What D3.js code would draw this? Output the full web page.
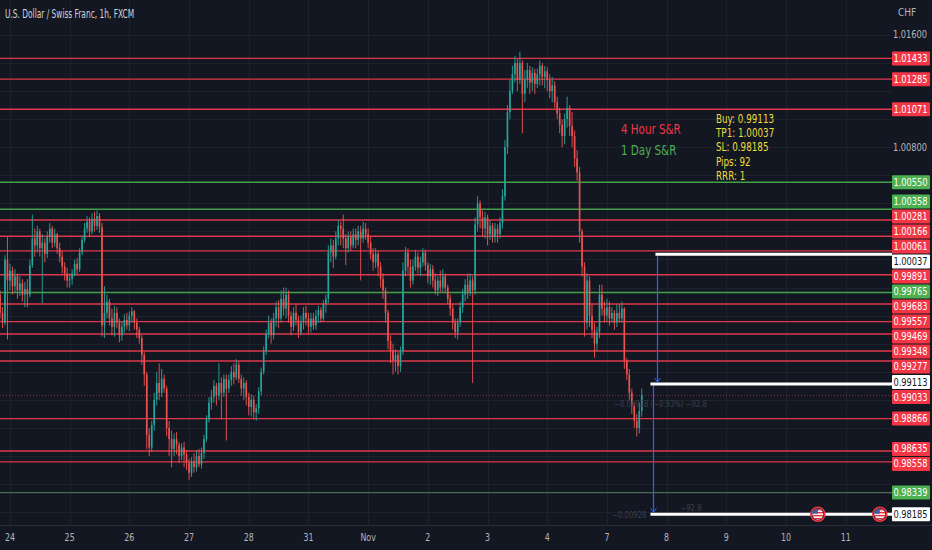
<!DOCTYPE html>
<html>
<head>
<meta charset="utf-8">
<script src="https://cdn.jsdelivr.net/npm/d3@7"></script>
<style>
  html, body { margin: 0; padding: 0; background: #131722; }
  svg { display: block; }
  text { font-family: "DejaVu Sans Condensed", "Liberation Sans Narrow", "Roboto", sans-serif; }
</style>
</head>
<body>
<div id="chart"></div>
<script>
// USD/CHF 1h candles, first bar is 4 hours before Oct 24, open of each bar = previous close
const firstOpen = 0.9975;
const firstBarIndex = -4;

const closes = [
  0.9962, 0.9955, 1.0000, 0.9985,
  // Oct 24
  0.9992, 0.9981, 0.9988, 0.9978, 0.9983, 0.9975, 0.9979, 0.9975, 0.9996, 1.0015, 1.0010, 1.0020,
  1.0008, 1.0012, 1.0004, 1.0016, 1.0022, 1.0012, 1.0018, 1.0008, 1.0002, 0.9995, 0.9990, 0.9985,
  // Oct 25
  0.9986, 0.9990, 0.9997, 0.9993, 1.0005, 1.0014, 1.0022, 1.0027, 1.0020, 1.0029, 1.0024, 1.0031,
  1.0023, 0.9953, 0.9962, 0.9970, 0.9958, 0.9952, 0.9962, 0.9955, 0.9946, 0.9952, 0.9957, 0.9953,
  // Oct 26
  0.9960, 0.9963, 0.9955, 0.9950, 0.9944, 0.9932, 0.9918, 0.9875, 0.9866, 0.9882, 0.9900, 0.9912,
  0.9905, 0.9915, 0.9908, 0.9880, 0.9872, 0.9865, 0.9872, 0.9868, 0.9860, 0.9866, 0.9861, 0.9855,
  // Oct 27
  0.9848, 0.9856, 0.9852, 0.9860, 0.9854, 0.9862, 0.9872, 0.9886, 0.9898, 0.9902, 0.9910, 0.9903,
  0.9912, 0.9905, 0.9915, 0.9908, 0.9914, 0.9920, 0.9916, 0.9925, 0.9915, 0.9908, 0.9912, 0.9902,
  // Oct 28
  0.9895, 0.9900, 0.9891, 0.9894, 0.9906, 0.9920, 0.9935, 0.9947, 0.9955, 0.9946, 0.9958, 0.9966,
  0.9958, 0.9972, 0.9965, 0.9975, 0.9960, 0.9952, 0.9962, 0.9957, 0.9948, 0.9955, 0.9962, 0.9958,
  // Oct 31
  0.9952, 0.9958, 0.9953, 0.9960, 0.9964, 0.9958, 0.9968, 0.9972, 1.0005, 1.0010, 1.0002, 1.0015,
  1.0024, 1.0022, 1.0015, 1.0008, 1.0016, 1.0010, 1.0018, 1.0014, 1.0020, 1.0015, 1.0022, 1.0018,
  // Nov 1
  1.0012, 1.0004, 0.9998, 1.0004, 0.9995, 0.9986, 0.9978, 0.9962, 0.9942, 0.9935, 0.9928, 0.9932,
  0.9924, 0.9935, 0.9992, 1.0005, 0.9995, 0.9985, 0.9995, 1.0002, 0.9994, 0.9998, 1.0005, 0.9996,
  // Nov 2
  0.9988, 0.9993, 0.9985, 0.9978, 0.9985, 0.9980, 0.9988, 0.9980, 0.9972, 0.9965, 0.9955, 0.9948,
  0.9955, 0.9966, 0.9975, 0.9982, 0.9976, 0.9985, 0.9978, 1.0025, 1.0040, 1.0030, 1.0022, 1.0030,
  // Nov 3
  1.0018, 1.0024, 1.0016, 1.0022, 1.0018, 1.0026, 1.0045, 1.0080, 1.0105, 1.0120, 1.0132, 1.0140,
  1.0128, 1.0140, 1.0118, 1.0128, 1.0135, 1.0126, 1.0133, 1.0125, 1.0132, 1.0138, 1.0130, 1.0134,
  // Nov 4
  1.0128, 1.0120, 1.0124, 1.0112, 1.0104, 1.0096, 1.0088, 1.0100, 1.0108, 1.0095, 1.0088, 1.0072,
  1.0062, 1.0020, 0.9995, 0.9955, 0.9985, 0.9960, 0.9950, 0.9940, 0.9948, 0.9975, 0.9965, 0.9960,
  // Nov 7
  0.9966, 0.9958, 0.9962, 0.9955, 0.9962, 0.9958, 0.9965, 0.9928, 0.9918, 0.9905, 0.9896, 0.9885,
  0.9880, 0.9892, 0.99033
];

const highs = [
  0.9978, 0.9966, 1.0003, 1.0016,
  0.9997, 0.9995, 0.9993, 0.9990, 0.9988, 0.9986, 0.9984, 0.9986, 1.0000, 1.0032, 1.0022, 1.0024,
  1.0022, 1.0018, 1.0015, 1.0020, 1.0026, 1.0024, 1.0022, 1.0019, 1.0012, 1.0006, 0.9998, 0.9994,
  0.9990, 0.9993, 1.0000, 1.0001, 1.0008, 1.0017, 1.0026, 1.0031, 1.0030, 1.0033, 1.0034, 1.0035,
  1.0033, 1.0026, 0.9981, 0.9975, 0.9972, 0.9965, 0.9967, 0.9966, 0.9958, 0.9956, 0.9961, 0.9962,
  0.9963, 0.9966, 0.9964, 0.9958, 0.9952, 0.9946, 0.9934, 0.9920, 0.9880, 0.9885, 0.9905, 0.9920,
  0.9926, 0.9922, 0.9918, 0.9910, 0.9885, 0.9878, 0.9876, 0.9877, 0.9870, 0.9869, 0.9870, 0.9864,
  0.9858, 0.9859, 0.9862, 0.9864, 0.9865, 0.9866, 0.9875, 0.9889, 0.9902, 0.9907, 0.9914, 0.9912,
  0.9926, 0.9916, 0.9918, 0.9918, 0.9918, 0.9924, 0.9926, 0.9929, 0.9927, 0.9918, 0.9916, 0.9914,
  0.9905, 0.9904, 0.9903, 0.9897, 0.9909, 0.9923, 0.9938, 0.9950, 0.9960, 0.9958, 0.9962, 0.9970,
  0.9971, 0.9978, 0.9980, 0.9980, 0.9978, 0.9963, 0.9966, 0.9968, 0.9960, 0.9960, 0.9966, 0.9967,
  0.9962, 0.9962, 0.9962, 0.9964, 0.9967, 0.9966, 0.9971, 0.9975, 1.0010, 1.0015, 1.0014, 1.0020,
  1.0028, 1.0027, 1.0032, 1.0018, 1.0020, 1.0020, 1.0022, 1.0022, 1.0024, 1.0024, 1.0027, 1.0026,
  1.0022, 1.0016, 1.0008, 1.0008, 1.0006, 0.9998, 0.9990, 0.9980, 0.9964, 0.9946, 0.9940, 0.9936,
  0.9934, 0.9938, 0.9998, 1.0009, 1.0008, 1.0000, 1.0000, 1.0007, 1.0005, 1.0002, 1.0008, 1.0007,
  0.9998, 0.9997, 0.9996, 0.9990, 0.9988, 0.9992, 0.9993, 0.9990, 0.9982, 0.9975, 0.9968, 0.9958,
  0.9958, 0.9970, 0.9979, 0.9986, 0.9990, 0.9990, 0.9988, 1.0030, 1.0045, 1.0042, 1.0035, 1.0034,
  1.0032, 1.0028, 1.0026, 1.0026, 1.0025, 1.0030, 1.0050, 1.0085, 1.0110, 1.0128, 1.0138, 1.0145,
  1.0143, 1.0148, 1.0142, 1.0135, 1.0140, 1.0138, 1.0137, 1.0136, 1.0136, 1.0142, 1.0140, 1.0138,
  1.0137, 1.0132, 1.0130, 1.0127, 1.0116, 1.0108, 1.0100, 1.0104, 1.0116, 1.0110, 1.0105, 1.0092,
  1.0078, 1.0066, 1.0022, 0.9998, 0.9990, 0.9988, 0.9968, 0.9955, 0.9952, 0.9982, 0.9982, 0.9970,
  0.9972, 0.9970, 0.9966, 0.9964, 0.9968, 0.9968, 0.9970, 0.9966, 0.9930, 0.9922, 0.9908, 0.9898,
  0.9890, 0.9898, 0.9908
];

const lows = [
  0.9958, 0.9951, 0.9953, 0.9943,
  0.9978, 0.9975, 0.9976, 0.9972, 0.9974, 0.9970, 0.9966, 0.9966, 0.9973, 0.9994, 1.0002, 1.0005,
  1.0002, 0.9969, 0.9998, 1.0001, 1.0012, 1.0008, 1.0009, 1.0004, 0.9998, 0.9990, 0.9985, 0.9980,
  0.9980, 0.9982, 0.9988, 0.9989, 0.9991, 1.0003, 1.0012, 1.0019, 1.0016, 1.0018, 1.0020, 1.0021,
  1.0019, 0.9945, 0.9944, 0.9958, 0.9953, 0.9946, 0.9945, 0.9951, 0.9941, 0.9942, 0.9948, 0.9950,
  0.9949, 0.9955, 0.9950, 0.9944, 0.9940, 0.9925, 0.9910, 0.9865, 0.9860, 0.9863, 0.9878, 0.9896,
  0.9900, 0.9902, 0.9905, 0.9874, 0.9860, 0.9852, 0.9860, 0.9861, 0.9855, 0.9857, 0.9852, 0.9850,
  0.9843, 0.9845, 0.9848, 0.9849, 0.9852, 0.9851, 0.9858, 0.9870, 0.9884, 0.9893, 0.9898, 0.9896,
  0.9900, 0.9886, 0.9902, 0.9871, 0.9905, 0.9910, 0.9911, 0.9914, 0.9912, 0.9903, 0.9900, 0.9896,
  0.9889, 0.9888, 0.9886, 0.9885, 0.9890, 0.9903, 0.9918, 0.9932, 0.9944, 0.9940, 0.9943, 0.9952,
  0.9951, 0.9955, 0.9960, 0.9958, 0.9955, 0.9946, 0.9949, 0.9953, 0.9944, 0.9946, 0.9950, 0.9953,
  0.9947, 0.9948, 0.9950, 0.9950, 0.9955, 0.9955, 0.9956, 0.9962, 0.9969, 0.9998, 0.9994, 1.0000,
  1.0010, 1.0010, 1.0008, 0.9996, 1.0005, 1.0006, 1.0008, 1.0008, 1.0010, 0.9985, 1.0012, 1.0014,
  1.0008, 1.0000, 0.9992, 0.9994, 0.9988, 0.9980, 0.9972, 0.9955, 0.9936, 0.9926, 0.9918, 0.9920,
  0.9918, 0.9920, 0.9932, 0.9988, 0.9990, 0.9980, 0.9982, 0.9992, 0.9990, 0.9988, 0.9995, 0.9992,
  0.9983, 0.9982, 0.9980, 0.9975, 0.9974, 0.9976, 0.9977, 0.9976, 0.9968, 0.9960, 0.9950, 0.9944,
  0.9943, 0.9952, 0.9962, 0.9970, 0.9972, 0.9974, 0.9912, 0.9975, 1.0020, 1.0022, 1.0016, 1.0015,
  1.0010, 1.0014, 1.0012, 1.0012, 1.0012, 1.0015, 1.0022, 1.0042, 1.0075, 1.0100, 1.0118, 1.0126,
  1.0120, 1.0125, 1.0090, 1.0112, 1.0122, 1.0118, 1.0120, 1.0118, 1.0122, 1.0124, 1.0124, 1.0122,
  1.0120, 1.0115, 1.0112, 1.0108, 1.0100, 1.0090, 1.0080, 1.0082, 1.0094, 1.0088, 1.0080, 1.0066,
  1.0056, 1.0012, 0.9988, 0.9945, 0.9950, 0.9952, 0.9944, 0.9930, 0.9935, 0.9944, 0.9960, 0.9955,
  0.9956, 0.9953, 0.9955, 0.9950, 0.9952, 0.9955, 0.9955, 0.9922, 0.9914, 0.9900, 0.9890, 0.9880,
  0.9874, 0.9876, 0.9888
];

// time axis: trading days, 24 bars each
const dayLabels = ['24', '25', '26', '27', '28', '31', 'Nov', '2', '3', '4', '7', '8', '9', '10', '11'];
const barsPerDay = 24;

// price axis ticks
const priceTicks = [1.016, 1.014, 1.012, 1.010, 1.008, 1.006, 1.004, 1.002, 1.000, 0.998, 0.996,
  0.994, 0.992, 0.990, 0.988, 0.986, 0.984, 0.982];

// support / resistance levels
const fourHourLevels = [1.01433, 1.01285, 1.01071, 1.00281, 1.00166, 1.00061, 0.99891, 0.99683,
  0.99557, 0.99469, 0.99348, 0.99277, 0.98866, 0.98635, 0.98558];
const dayLevels = [1.00550, 1.00358, 0.99765, 0.98339];
const lastPrice = 0.99033;

// trade setup
const buyPrice = 0.99113;
const tpPrice = 1.00037;
const slPrice = 0.98185;
const tradeStartBar = 257.5;
const tpStartBar = 259.5;
const eventBars = [324.8, 349.7];
const infoLines = ['Buy: 0.99113', 'TP1: 1.00037', 'SL: 0.98185', 'Pips: 92', 'RRR: 1'];

const W = 932, H = 550;
const plotW = 892, plotH = 525;

const candles = closes.map((c, i) => {
  const o = i === 0 ? firstOpen : closes[i - 1];
  return {
    idx: firstBarIndex + i, o, c,
    h: Math.max(highs[i], o, c),
    l: Math.min(lows[i], o, c)
  };
});

const x = d3.scaleLinear().domain([-4, 354.6]).range([0, plotW]);
const y = d3.scaleLinear().domain([0.98108, 1.01849]).range([plotH, 0]);
const fmt = d3.format('.5f');
const crisp = v => Math.round(v) + 0.5;

// the chart font is narrower than anything installed, so squeeze text horizontally
function squeeze(sel, k) {
  sel.each(function () {
    const len = this.getComputedTextLength();
    this.setAttribute('textLength', len * k);
    this.setAttribute('lengthAdjust', 'spacingAndGlyphs');
  });
  return sel;
}

const svg = d3.select('#chart').append('svg')
  .attr('width', W).attr('height', H);

svg.append('rect').attr('width', W).attr('height', H).attr('fill', '#131722');

const RED = '#f23645', GREEN = '#4caf50';

// grid
const grid = svg.append('g');
grid.selectAll('.hg').data(priceTicks).join('line')
  .attr('x1', 0).attr('x2', plotW)
  .attr('y1', d => crisp(y(d))).attr('y2', d => crisp(y(d)))
  .attr('stroke', '#1e222d');
grid.selectAll('.vg').data(dayLabels).join('line')
  .attr('x1', (d, i) => crisp(x(i * barsPerDay))).attr('x2', (d, i) => crisp(x(i * barsPerDay)))
  .attr('y1', 0).attr('y2', plotH)
  .attr('stroke', '#1e222d');
svg.append('line').attr('x1', 0).attr('x2', W).attr('y1', plotH + 0.5).attr('y2', plotH + 0.5)
  .attr('stroke', '#2a2e39');

// level lines
const levels = svg.append('g');
levels.selectAll('.r').data(fourHourLevels).join('line')
  .attr('x1', 0).attr('x2', plotW)
  .attr('y1', d => y(d)).attr('y2', d => y(d))
  .attr('stroke', '#e0384a').attr('stroke-width', 1.4);
levels.selectAll('.g').data(dayLevels).join('line')
  .attr('x1', 0).attr('x2', plotW)
  .attr('y1', d => y(d)).attr('y2', d => y(d))
  .attr('stroke', (d, i) => i === dayLevels.length - 1 ? '#4d6b55' : '#43a047').attr('stroke-width', 1.4);
levels.append('line')
  .attr('x1', 0).attr('x2', plotW)
  .attr('y1', crisp(y(lastPrice))).attr('y2', crisp(y(lastPrice)))
  .attr('stroke', RED).attr('stroke-opacity', 0.6).attr('stroke-dasharray', '1,2');

// candles
const step = x(1) - x(0);
const bodyW = Math.max(1, step * 0.65);
const cg = svg.append('g');
cg.selectAll('.wick').data(candles).join('line')
  .attr('x1', d => x(d.idx)).attr('x2', d => x(d.idx))
  .attr('y1', d => y(d.h)).attr('y2', d => y(d.l))
  .attr('stroke', d => d.c >= d.o ? '#26a69a' : '#ef5350').attr('stroke-width', 0.9);
cg.selectAll('.body').data(candles).join('rect')
  .attr('x', d => x(d.idx) - bodyW / 2).attr('width', bodyW)
  .attr('y', d => y(Math.max(d.o, d.c)))
  .attr('height', d => Math.max(1, Math.abs(y(d.o) - y(d.c))))
  .attr('fill', d => d.c >= d.o ? '#26a69a' : '#ef5350');

// trade tool
const tg = svg.append('g');
tg.append('line').attr('x1', x(tpStartBar)).attr('x2', plotW)
  .attr('y1', y(tpPrice)).attr('y2', y(tpPrice)).attr('stroke', '#fff').attr('stroke-width', 3);
tg.append('line').attr('x1', x(tradeStartBar)).attr('x2', plotW)
  .attr('y1', y(buyPrice)).attr('y2', y(buyPrice)).attr('stroke', '#fff').attr('stroke-width', 3);
tg.append('line').attr('x1', x(tradeStartBar)).attr('x2', plotW)
  .attr('y1', y(slPrice)).attr('y2', y(slPrice)).attr('stroke', '#fff').attr('stroke-width', 3);

function arrow(bar, p1, p2) {
  const ax = crisp(x(bar));
  tg.append('line').attr('x1', ax).attr('x2', ax)
    .attr('y1', y(p1) + 2).attr('y2', y(p2) - 2).attr('stroke', '#2962ff').attr('stroke-width', 1.2);
  tg.append('path')
    .attr('d', `M${ax - 3},${y(p2) - 6} L${ax},${y(p2) - 2} L${ax + 3},${y(p2) - 6}`)
    .attr('fill', 'none').attr('stroke', '#2962ff').attr('stroke-width', 1);
}
arrow(tpStartBar + 0.6, tpPrice, buyPrice);
arrow(tradeStartBar + 1, buyPrice, slPrice);

squeeze(tg.append('text').attr('x', x(tradeStartBar) + 10).attr('y', y(buyPrice) + 23)
  .attr('text-anchor', 'middle').attr('font-size', 9).attr('fill', '#3b3f4a')
  .text('−0.00928 (−0.93%) −92.8'), 0.85);
squeeze(tg.append('text').attr('x', x(tradeStartBar) - 4).attr('y', y(slPrice) + 4)
  .attr('text-anchor', 'end').attr('font-size', 9).attr('fill', '#3b3f4a').text('−0.00928'), 0.85);
squeeze(tg.append('text').attr('x', x(tradeStartBar) + 30).attr('y', y(slPrice) - 3)
  .attr('font-size', 9).attr('fill', '#3b3f4a').text('−92.8'), 0.85);

// economic event flags
const defs = svg.append('defs');
defs.append('clipPath').attr('id', 'flagClip').append('circle').attr('r', 5.5);
const flags = svg.selectAll('.flag').data(eventBars).join('g')
  .attr('transform', d => `translate(${x(d)},${y(slPrice)})`);
flags.append('circle').attr('r', 7).attr('fill', '#131722').attr('stroke', RED).attr('stroke-width', 1.6);
const inner = flags.append('g').attr('clip-path', 'url(#flagClip)');
inner.append('rect').attr('x', -6).attr('y', -6).attr('width', 12).attr('height', 12).attr('fill', '#fff');
[-4.5, -1.5, 1.5, 4.5].forEach(sy => {
  inner.append('rect').attr('x', -6).attr('y', sy - 0.8).attr('width', 12).attr('height', 1.5).attr('fill', '#e0323c');
});
inner.append('rect').attr('x', -6).attr('y', -6).attr('width', 6).attr('height', 5.5).attr('fill', '#3c5aa8');

// annotations
squeeze(svg.append('text').attr('x', 621).attr('y', 134).attr('font-size', 14).attr('fill', RED)
  .text('4 Hour S&R'), 0.82);
squeeze(svg.append('text').attr('x', 621).attr('y', 155).attr('font-size', 14).attr('fill', GREEN)
  .text('1 Day S&R'), 0.82);
squeeze(svg.selectAll('.info').data(infoLines).join('text')
  .attr('x', 716).attr('y', (d, i) => 123 + i * 14.2)
  .attr('font-size', 12.5).attr('fill', '#f0dc3c').text(d => d), 0.78);

squeeze(svg.append('text').attr('x', 5).attr('y', 18).attr('font-size', 11.5).attr('fill', '#d1d4dc')
  .text('U.S. Dollar / Swiss Franc, 1h, FXCM'), 0.72);

// time axis
squeeze(svg.selectAll('.tt').data(dayLabels).join('text')
  .attr('x', (d, i) => x(i * barsPerDay)).attr('y', 541).attr('text-anchor', 'middle')
  .attr('font-size', 11).attr('fill', '#b2b5be').text(d => d), 0.8);

// price labels, stacked so they do not overlap
const tags = [
  ...fourHourLevels.map(p => ({ p, fill: RED, color: '#fff' })),
  ...dayLevels.map(p => ({ p, fill: GREEN, color: '#fff' })),
  { p: lastPrice, fill: RED, color: '#fff' },
  { p: buyPrice, fill: '#fff', color: '#131722' },
  { p: tpPrice, fill: '#fff', color: '#131722' },
  { p: slPrice, fill: '#fff', color: '#131722' }
].map(t => ({ ...t, y0: y(t.p) })).sort((a, b) => a.y0 - b.y0);

const tagH = 15;
let clusters = tags.map(t => ({ items: [t], top: t.y0 - tagH / 2 }));
let merged = true;
while (merged) {
  merged = false;
  for (let i = 0; i < clusters.length - 1; i++) {
    const a = clusters[i], b = clusters[i + 1];
    if (a.top + a.items.length * tagH > b.top) {
      const items = a.items.concat(b.items);
      const mean = d3.mean(items, t => t.y0);
      clusters.splice(i, 2, { items, top: mean - items.length * tagH / 2 });
      merged = true;
      break;
    }
  }
}
clusters.forEach(cl => cl.items.forEach((t, k) => { t.yc = cl.top + k * tagH + tagH / 2; }));

// price axis: tick labels hidden where a tag covers them
svg.append('text').attr('x', 898).attr('y', 16).attr('font-size', 10).attr('fill', '#b2b5be').text('CHF');
const freeTicks = priceTicks.filter(p => tags.every(t => Math.abs(t.yc - y(p)) > 12));
squeeze(svg.selectAll('.pt').data(freeTicks).join('text')
  .attr('x', 910).attr('y', d => y(d) + 3.5).attr('text-anchor', 'middle')
  .attr('font-size', 10).attr('fill', '#b2b5be').text(d => fmt(d)), 0.92);

const tagG = svg.selectAll('.tag').data(tags).join('g')
  .attr('transform', d => `translate(892,${d.yc})`);
tagG.append('rect').attr('x', 0).attr('y', -7).attr('width', 38).attr('height', 14)
  .attr('rx', 1).attr('fill', d => d.fill);
squeeze(tagG.append('text').attr('x', 18.5).attr('y', 3.5).attr('text-anchor', 'middle')
  .attr('font-size', 10).attr('fill', d => d.color).text(d => fmt(d.p)), 0.92);
</script>
</body>
</html>
